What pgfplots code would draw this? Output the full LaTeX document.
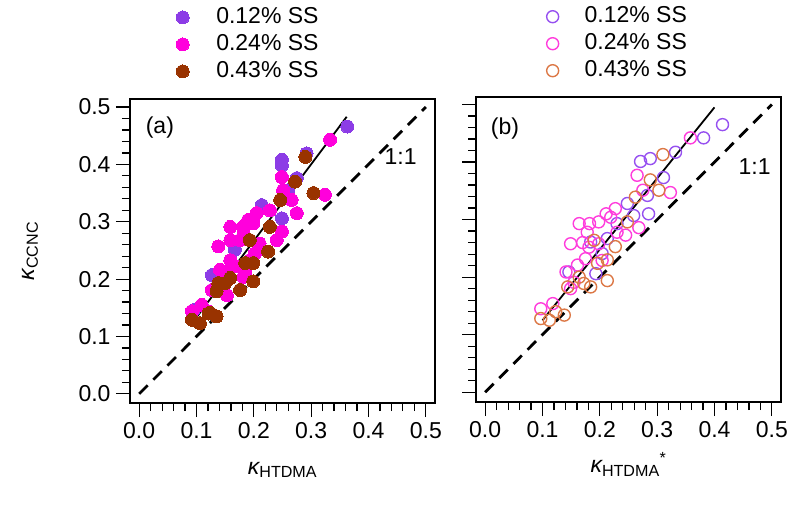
\documentclass[border=0pt]{standalone}
\usepackage{fontspec}
\setmainfont{Liberation Sans}
\usepackage{pgfplots}
\pgfplotsset{compat=1.18}
\definecolor{ssA}{RGB}{140,60,230}
\definecolor{ssB}{RGB}{255,0,220}
\definecolor{ssC}{RGB}{153,51,0}
\definecolor{osA}{RGB}{150,80,240}
\definecolor{osB}{RGB}{255,60,220}
\definecolor{osC}{RGB}{220,120,70}
\newcommand{\bigf}{\fontsize{23bp}{27bp}\selectfont}

\pgfplotsset{
  kappa/.style={
    scale only axis, width=305bp, height=304bp,
    xmin=-0.016, xmax=0.516, ymin=-0.016, ymax=0.514,
    xtick={0,0.1,0.2,0.3,0.4,0.5}, ytick={0,0.1,0.2,0.3,0.4,0.5},
    minor tick num=4,
    tick align=outside, tick pos=left,
    major tick length=14bp, minor tick length=8bp,
    axis line style={line width=1.3bp},
    tick style={black, line width=1.2bp},
    font=\bigf,
    tick label style={font=\bigf},
    xticklabel style={yshift=-2bp, /pgf/number format/.cd, fixed, fixed zerofill, precision=1, assume math mode=true},
    yticklabel style={xshift=-2bp, /pgf/number format/.cd, fixed, fixed zerofill, precision=1, assume math mode=true},
    xlabel style={at={(axis description cs:0.5,-0.22)}, anchor=center},
    legend style={draw=none, fill=none, inner sep=0pt, font=\bigf, row sep=5bp,
      nodes={inner sep=0pt, text height=17bp, text depth=5bp},
      cells={anchor=west}},
    legend image code/.code={\draw[##1] plot coordinates {(0bp,0bp)};},
  },
  fill dot/.style={only marks, color=#1, mark=*, mark size=6.5bp, mark options={draw=#1, fill=#1, line width=0bp}},
  open dot/.style={only marks, color=#1, mark=o, mark size=6bp, mark options={draw=#1, line width=1.4bp}},
  oneone/.style={black, line width=2.8bp, dash pattern=on 12bp off 8bp},
  fitline/.style={black, line width=1.8bp},
}

\begin{document}
\begin{tikzpicture}
\useasboundingbox (0,0) rectangle (795bp,-511bp);

% panel (a)
\begin{axis}[kappa, at={(130bp,-403bp)}, anchor=south west,
  xlabel={{\itshape κ}\textsubscript{HTDMA}},
  ylabel={{\itshape κ}\textsubscript{CCNC}},
  ylabel style={at={(axis description cs:-0.328,0.5)}, anchor=center},
  legend style={at={(axis description cs:0.151,1.305)}, anchor=north west,
    /tikz/every odd column/.append style={column sep=27bp}},
]
\addplot[fill dot=ssA] coordinates {
(0.363,0.466) (0.249,0.408) (0.249,0.398) (0.292,0.419) (0.214,0.329)
(0.249,0.306) (0.275,0.376) (0.167,0.251) (0.127,0.207) (0.095,0.146)
(0.260,0.355)};
\addplot[fill dot=ssB] coordinates {
(0.333,0.443) (0.249,0.378) (0.324,0.347) (0.275,0.315) (0.266,0.338)
(0.251,0.355) (0.205,0.315) (0.190,0.303) (0.159,0.291) (0.181,0.291)
(0.199,0.297) (0.182,0.280) (0.228,0.320) (0.159,0.268) (0.138,0.257)
(0.176,0.268) (0.210,0.262) (0.249,0.283) (0.240,0.268) (0.202,0.245)
(0.159,0.233) (0.170,0.222) (0.193,0.233) (0.153,0.213) (0.185,0.213)
(0.182,0.204) (0.141,0.216) (0.138,0.193) (0.135,0.181) (0.127,0.181)
(0.153,0.172) (0.109,0.155) (0.092,0.144) (0.121,0.143)};
\addplot[fill dot=ssC] coordinates {
(0.290,0.413) (0.272,0.370) (0.304,0.350) (0.246,0.338) (0.228,0.291)
(0.193,0.268) (0.225,0.248) (0.185,0.228) (0.199,0.228) (0.159,0.202)
(0.199,0.196) (0.176,0.181) (0.138,0.193) (0.150,0.193) (0.135,0.179)
(0.124,0.141) (0.135,0.135) (0.121,0.140) (0.092,0.129) (0.106,0.123)};
\legend{0.12\% SS, 0.24\% SS, 0.43\% SS}
\addplot[fitline, forget plot] coordinates {(0.093,0.124) (0.362,0.483)};
\addplot[oneone, forget plot] coordinates {(0,0) (0.5,0.5)};
\node at (axis description cs:0.098,0.905) {(a)};
\node at (axis cs:0.456,0.413) {1:1};
\end{axis}

% panel (b)
\begin{axis}[kappa, at={(476bp,-402bp)}, anchor=south west, height=305bp,
  ymin=-0.017, ymax=0.513,
  yticklabels={},
  xlabel={{\itshape κ}\textsubscript{HTDMA}\textsuperscript{*}},
  xlabel style={at={(axis description cs:0.5,-0.205)}},
  legend style={at={(axis description cs:0.231,1.300)}, anchor=north west,
    /tikz/every odd column/.append style={column sep=26bp}},
]
\addplot[open dot=osA] coordinates {
(0.414,0.465) (0.381,0.442) (0.332,0.417) (0.288,0.406) (0.271,0.401)
(0.311,0.373) (0.283,0.342) (0.248,0.328) (0.285,0.310) (0.259,0.307)
(0.230,0.293) (0.213,0.267) (0.184,0.261) (0.204,0.241) (0.193,0.206)
(0.146,0.209)};
\addplot[open dot=osB] coordinates {
(0.358,0.442) (0.265,0.377) (0.323,0.347) (0.275,0.351) (0.227,0.319)
(0.211,0.310) (0.219,0.304) (0.182,0.293) (0.164,0.293) (0.198,0.296)
(0.178,0.278) (0.149,0.258) (0.170,0.260) (0.198,0.258) (0.181,0.252)
(0.245,0.273) (0.268,0.286) (0.230,0.278) (0.175,0.232) (0.161,0.221)
(0.204,0.229) (0.141,0.209) (0.155,0.191) (0.149,0.180) (0.118,0.154)
(0.097,0.145)};
\addplot[open dot=osC] coordinates {
(0.310,0.413) (0.288,0.369) (0.303,0.351) (0.262,0.339) (0.248,0.296)
(0.190,0.264) (0.227,0.253) (0.213,0.230) (0.196,0.224) (0.213,0.194)
(0.164,0.200) (0.144,0.183) (0.172,0.189) (0.184,0.183) (0.138,0.134)
(0.097,0.128) (0.123,0.140) (0.112,0.125)};
\legend{0.12\% SS, 0.24\% SS, 0.43\% SS}
\addplot[fitline, forget plot] coordinates {(0.100,0.125) (0.400,0.495)};
\addplot[oneone, forget plot] coordinates {(0,0) (0.5,0.5)};
\node at (axis description cs:0.095,0.898) {(b)};
\node at (axis cs:0.470,0.392) {1:1};
\end{axis}
\end{tikzpicture}
\end{document}
